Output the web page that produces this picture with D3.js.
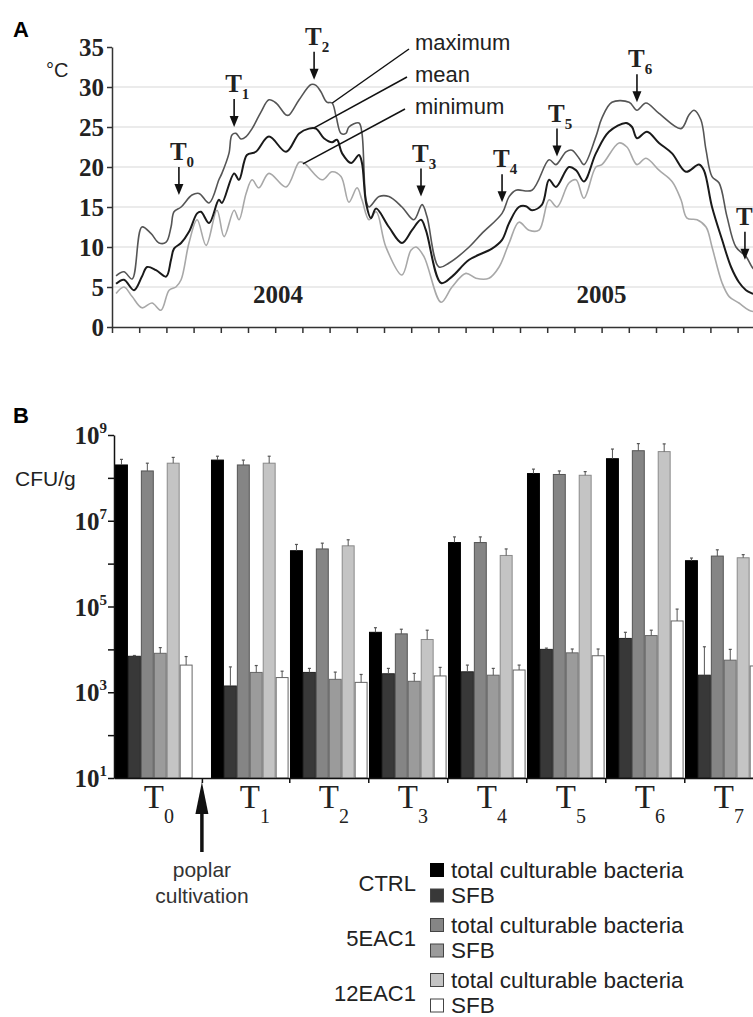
<!DOCTYPE html>
<html>
<head>
<meta charset="utf-8">
<script src="https://cdn.jsdelivr.net/npm/d3@7"></script>
<style>
  body { margin: 0; background: #fff; }
  svg { display: block; }
</style>
</head>
<body>
<script>
// ---- data: panel A, air temperature (month index from Jan 2004, deg C) ----
var tMax = [[0.15,6.4],[0.44,6.9],[0.74,6.0],[1.10,12.5],[1.43,11.7],[1.73,10.5],[1.99,10.6],[2.17,12.5],[2.28,14.4],[2.54,15.0],[2.94,16.5],[3.20,16.7],[3.57,15.5],[3.93,18.4],[4.04,19.2],[4.30,21.7],[4.41,24.0],[4.56,24.2],[4.74,23.5],[4.93,23.8],[5.15,24.8],[5.48,26.9],[5.77,28.4],[6.03,28.0],[6.40,26.5],[6.51,26.5],[6.88,28.4],[7.32,30.3],[7.50,30.2],[7.68,29.4],[7.90,28.1],[8.09,28.0],[8.24,26.3],[8.42,24.2],[8.60,24.2],[8.71,25.0],[9.08,25.5],[9.19,24.2],[9.34,15.9],[9.45,15.0],[9.82,16.3],[10.18,16.3],[10.66,15.0],[11.10,13.4],[11.40,15.3],[11.58,13.8],[12.02,7.5],[12.39,8.0],[13.13,10.0],[13.60,11.7],[14.34,14.2],[14.60,16.3],[14.85,17.1],[15.44,17.1],[16.07,20.9],[16.32,20.3],[16.69,21.9],[16.91,22.1],[17.17,21.1],[17.35,20.3],[17.79,23.8],[18.01,26.1],[18.38,28.1],[19.01,28.1],[19.30,27.1],[19.63,28.0],[20.11,26.7],[20.92,24.8],[21.21,26.5],[21.40,27.1],[21.65,25.9],[21.84,22.1],[22.06,18.8],[22.32,18.0],[22.61,13.8],[22.94,10.0],[23.31,8.8],[23.53,7.5],[23.79,6.5]];
var tMean = [[0.15,5.4],[0.44,5.9],[0.81,4.6],[1.10,6.3],[1.29,7.5],[1.62,7.1],[1.99,6.3],[2.17,8.4],[2.28,9.8],[2.54,10.5],[2.83,11.9],[3.13,14.2],[3.27,14.4],[3.57,13.0],[3.93,15.9],[4.04,15.5],[4.49,19.2],[4.67,18.4],[4.96,21.5],[5.29,21.9],[5.77,23.8],[6.40,21.9],[6.88,24.2],[7.24,24.8],[7.50,24.8],[7.79,23.6],[8.09,23.1],[8.27,23.4],[8.46,21.7],[8.79,20.5],[9.08,21.5],[9.19,20.5],[9.34,15.5],[9.52,13.6],[9.71,14.8],[10.18,12.5],[10.66,10.5],[11.03,12.1],[11.36,13.4],[11.54,12.1],[12.10,5.5],[12.50,6.3],[13.13,8.4],[13.97,9.8],[14.34,10.9],[14.60,13.0],[14.96,15.0],[15.22,15.1],[15.44,14.6],[15.81,15.3],[16.07,18.4],[16.32,17.5],[16.80,20.0],[17.06,19.6],[17.35,18.2],[17.79,21.7],[18.27,24.4],[18.90,25.5],[19.12,25.0],[19.30,23.6],[19.67,24.4],[20.11,23.0],[20.59,21.7],[21.10,19.4],[21.58,20.3],[21.76,19.6],[22.06,15.0],[22.43,10.9],[22.76,7.5],[23.05,5.6],[23.31,4.6],[23.53,4.2],[23.79,3.9]];
var tMin = [[0.15,4.2],[0.44,5.0],[0.74,3.8],[1.10,2.4],[1.47,3.0],[1.80,2.1],[2.10,4.6],[2.35,5.0],[2.54,5.9],[2.83,10.5],[3.13,13.4],[3.46,10.2],[3.86,14.6],[4.12,11.3],[4.49,14.6],[4.67,13.4],[4.93,16.7],[5.15,18.4],[5.40,17.4],[5.77,19.2],[6.40,17.5],[6.88,20.6],[7.06,20.5],[7.72,18.4],[8.09,19.4],[8.42,18.8],[8.71,15.6],[9.01,17.4],[9.19,15.9],[9.45,13.4],[9.71,14.4],[10.07,10.0],[10.66,6.5],[10.99,9.6],[11.18,10.0],[11.47,8.8],[12.10,3.1],[12.50,5.0],[13.01,6.7],[13.38,6.1],[13.86,6.1],[14.23,7.5],[14.60,10.5],[14.96,13.1],[15.33,12.1],[15.70,12.1],[16.07,15.9],[16.36,15.0],[16.80,18.0],[17.06,18.4],[17.35,16.1],[17.79,20.0],[18.01,20.3],[18.64,23.0],[18.93,22.5],[19.30,20.3],[19.63,21.1],[20.11,19.6],[20.59,18.2],[20.92,15.9],[21.14,13.6],[21.51,13.4],[21.84,12.5],[22.06,10.0],[22.43,5.5],[22.69,3.8],[23.05,3.0],[23.42,2.1],[23.79,1.8]];

var sampleNames = ['0','1','2','3','4','5','6','7'];
var sampleMonths = [2.46, 4.49, 7.43, 11.36, 14.34, 16.36, 19.30, 23.27];
var sampleTemps = [16.5, 25.0, 30.9, 16.3, 15.6, 21.3, 28.1, 8.4];
var tempTicks = [0, 5, 10, 15, 20, 25, 30, 35];
var years = [['2004', 6.1], ['2005', 18.0]];
var curveNames = ['maximum', 'mean', 'minimum'];
var curveLabelAnchors = [[8.1, 28.0], [7.43, 24.9], [7.02, 20.4]];

// ---- data: panel B, CFU/g per sampling time ----
var times = ['0','1','2','3','4','5','6','7'];
var seriesNames = ['CTRL total', 'CTRL SFB', '5EAC1 total', '5EAC1 SFB', '12EAC1 total', '12EAC1 SFB'];
var ctrlTotal   = [2.0e8, 2.6e8, 2.0e6, 2.5e4, 3.1e6, 1.26e8, 2.8e8, 1.17e6];
var ctrlTotalSd = [7e7, 6e7, 8e5, 7e3, 1.1e6, 3.4e7, 1.9e8, 1.8e5];
var ctrlSfb     = [6.9e3, 1.4e3, 2.9e3, 2.7e3, 3.0e3, 1.0e4, 1.8e4, 2.5e3];
var ctrlSfbSd   = [300, 2500, 700, 900, 1300, 700, 7000, 9000];
var eac5Total   = [1.45e8, 2.0e8, 2.2e6, 2.3e4, 3.1e6, 1.2e8, 4.3e8, 1.5e6];
var eac5TotalSd = [7.5e7, 6e7, 8e5, 6.5e3, 1.1e6, 2.5e7, 2e8, 6e5];
var eac5Sfb     = [8.1e3, 2.9e3, 2.0e3, 1.8e3, 2.5e3, 8.3e3, 2.1e4, 5.6e3];
var eac5SfbSd   = [2900, 1300, 950, 950, 1100, 1900, 7000, 4400];
var eac12Total  = [2.2e8, 2.2e8, 2.6e6, 1.7e4, 1.55e6, 1.15e8, 4.1e8, 1.37e6];
var eac12TotalSd= [8e7, 1e8, 1e6, 1.1e4, 6.5e5, 2.5e7, 2.1e8, 2.5e5];
var eac12Sfb    = [4.3e3, 2.2e3, 1.7e3, 2.4e3, 3.3e3, 7.1e3, 4.6e4, 4.1e3];
var eac12SfbSd  = [2500, 900, 900, 1400, 1000, 3100, 41000, 1900];
var cfuTicks = [1e1, 1e2, 1e3, 1e4, 1e5, 1e6, 1e7, 1e8, 1e9];
var legendGroups = ['CTRL', '5EAC1', '12EAC1'];
var legendItems = ['total culturable bacteria', 'SFB'];

var seriesValues = [ctrlTotal, ctrlSfb, eac5Total, eac5Sfb, eac12Total, eac12Sfb];
var seriesSd = [ctrlTotalSd, ctrlSfbSd, eac5TotalSd, eac5SfbSd, eac12TotalSd, eac12SfbSd];
var fills = ['#000000', '#383838', '#858585', '#9b9b9b', '#c4c4c4', '#ffffff'];
var strokes = ['#000000', '#222222', '#555555', '#666666', '#8a8a8a', '#666666'];

var serif = "'Liberation Serif', 'Times New Roman', serif";
var sans = "'Liberation Sans', Arial, sans-serif";

var svg = d3.select('body').append('svg')
  .attr('width', 753)
  .attr('height', 1017);

svg.append('rect').attr('width', 753).attr('height', 1017).attr('fill', '#fff');

// ================= panel A =================
var xA = d3.scaleLinear().domain([0, 24]).range([112, 112 + 24 * 27.2]);
var yA = d3.scaleLinear().domain([0, 35]).range([327, 47]);

svg.append('text').attr('x', 13).attr('y', 37)
  .style('font-family', sans).style('font-size', '22px').style('font-weight', 'bold')
  .text('A');

// grid
svg.append('g').selectAll('line').data(tempTicks.filter(function(d){ return d > 0 && d < 35; }))
  .enter().append('line')
  .attr('x1', xA(0)).attr('x2', 753)
  .attr('y1', function(d){ return yA(d); }).attr('y2', function(d){ return yA(d); })
  .attr('stroke', '#e4e4e4').attr('stroke-width', 1.5);

var yAxisA = svg.append('g').attr('transform', 'translate(' + xA(0) + ',0)')
  .call(d3.axisLeft(yA).tickValues(tempTicks).tickSize(5).tickPadding(3).tickSizeOuter(0));
var xAxisA = svg.append('g').attr('transform', 'translate(0,' + yA(0) + ')')
  .call(d3.axisBottom(xA).tickValues(d3.range(0, 24)).tickSize(6).tickSizeOuter(0).tickFormat(''));

[yAxisA, xAxisA].forEach(function(ax){
  ax.selectAll('path, line').attr('stroke', '#333').attr('stroke-width', 1.5);
});
yAxisA.selectAll('text')
  .style('font-family', serif).style('font-size', '25px').style('font-weight', 'bold')
  .attr('fill', '#222').attr('dy', '0.34em');

svg.append('text').attr('x', 46).attr('y', 77)
  .style('font-family', sans).style('font-size', '20px').attr('fill', '#222')
  .text('°C');

var line = d3.line()
  .x(function(d){ return xA(d[0]); })
  .y(function(d){ return yA(d[1]); })
  .curve(d3.curveCatmullRom.alpha(0.5));

var curves = [
  {data: tMin, color: '#a8a8a8', w: 1.6},
  {data: tMax, color: '#555555', w: 1.6},
  {data: tMean, color: '#1a1a1a', w: 2}
];
svg.append('g').selectAll('path').data(curves).enter().append('path')
  .attr('d', function(d){ return line(d.data); })
  .attr('fill', 'none')
  .attr('stroke', function(d){ return d.color; })
  .attr('stroke-width', function(d){ return d.w; });

// year labels
svg.append('g').selectAll('text').data(years).enter().append('text')
  .attr('x', function(d){ return xA(d[1]); }).attr('y', 303)
  .attr('text-anchor', 'middle')
  .style('font-family', serif).style('font-size', '25px').style('font-weight', 'bold')
  .attr('fill', '#222')
  .text(function(d){ return d[0]; });

// curve labels with leader lines
curveNames.forEach(function(name, i){
  var ly = 50 + i * 32;
  svg.append('line')
    .attr('x1', 409 - i * 2).attr('y1', ly - 1 + (i === 0 ? 0 : -4))
    .attr('x2', xA(curveLabelAnchors[i][0])).attr('y2', yA(curveLabelAnchors[i][1]))
    .attr('stroke', '#111').attr('stroke-width', 1.5);
  svg.append('text').attr('x', 415).attr('y', ly)
    .style('font-family', sans).style('font-size', '22px').attr('fill', '#222')
    .text(name);
});

// sampling arrows
var arrowsA = svg.append('g').selectAll('g').data(sampleNames).enter().append('g')
  .attr('transform', function(d, i){
    return 'translate(' + xA(sampleMonths[i]) + ',' + yA(sampleTemps[i]) + ')';
  });
arrowsA.append('line').attr('x1', 0).attr('x2', 0).attr('y1', -28).attr('y2', -8)
  .attr('stroke', '#111').attr('stroke-width', 1.6);
arrowsA.append('path').attr('d', 'M-4.5,-11L4.5,-11L0,0Z').attr('fill', '#111');
var tlab = arrowsA.append('text').attr('x', -9).attr('y', -35)
  .style('font-family', serif).style('font-weight', 'bold').attr('fill', '#222');
tlab.append('tspan').style('font-size', '25px').text('T');
tlab.append('tspan').attr('dy', 7).style('font-size', '15px').text(function(d){ return d; });

// ================= panel B =================
var yB = d3.scaleLog().domain([1e1, 1e9]).range([778, 435]);
var xG = d3.scaleLinear().domain([0, 8]).range([115, 115 + 8 * 79]);
var slot = function(i){ return i + (i > 0 ? 0.215 : 0); };
var xS = d3.scaleBand().domain(seriesNames).range([0, 77.6]);
var bw = xS.bandwidth();

svg.append('text').attr('x', 13).attr('y', 423)
  .style('font-family', sans).style('font-size', '22px').style('font-weight', 'bold')
  .text('B');
svg.append('text').attr('x', 15).attr('y', 486)
  .style('font-family', sans).style('font-size', '21px').attr('fill', '#222')
  .text('CFU/g');

var cells = [];
times.forEach(function(t, i){
  seriesNames.forEach(function(s, j){
    cells.push({t: i, s: j, v: seriesValues[j][i], sd: seriesSd[j][i]});
  });
});

var bars = svg.append('g');
bars.selectAll('rect').data(cells).enter().append('rect')
  .attr('x', function(d){ return xG(slot(d.t)) + xS(seriesNames[d.s]) + 0.5; })
  .attr('y', function(d){ return yB(d.v); })
  .attr('width', bw - 1)
  .attr('height', function(d){ return yB(1e1) - yB(d.v); })
  .attr('fill', function(d){ return fills[d.s]; })
  .attr('stroke', function(d){ return strokes[d.s]; })
  .attr('stroke-width', 1);

var errs = svg.append('g').selectAll('g').data(cells).enter().append('g')
  .attr('transform', function(d){
    return 'translate(' + (xG(slot(d.t)) + xS(seriesNames[d.s]) + bw / 2) + ',0)';
  });
errs.append('line').attr('x1', 0).attr('x2', 0)
  .attr('y1', function(d){ return yB(d.v); })
  .attr('y2', function(d){ return yB(d.v + d.sd); })
  .attr('stroke', '#555').attr('stroke-width', 1);
errs.append('line').attr('x1', -1.5).attr('x2', 1.5)
  .attr('y1', function(d){ return yB(d.v + d.sd); })
  .attr('y2', function(d){ return yB(d.v + d.sd); })
  .attr('stroke', '#555').attr('stroke-width', 1.2);

// axes
var yAxisB = svg.append('g').attr('transform', 'translate(114,0)')
  .call(d3.axisLeft(yB).tickValues(cfuTicks).tickSize(6).tickSizeOuter(0).tickFormat(''));
var xAxisScale = xG.copy().domain([xG.invert(114), xG.invert(760)]).range([114, 760]);
var groupEdges = [1.1, 2.206, 3.206, 4.206, 5.206, 6.206, 7.206];
var xAxisB = svg.append('g').attr('transform', 'translate(0,778)')
  .call(d3.axisBottom(xAxisScale).tickValues(groupEdges).tickSize(5).tickSizeOuter(0).tickFormat(''));
[yAxisB, xAxisB].forEach(function(ax){
  ax.selectAll('path, line').attr('stroke', '#111').attr('stroke-width', 1.5);
});

var ylabB = svg.append('g').selectAll('text')
  .data(cfuTicks.filter(function(d, i){ return i % 2 === 0; }))
  .enter().append('text')
  .attr('x', 107).attr('y', function(d){ return yB(d) + 9; })
  .attr('text-anchor', 'end')
  .style('font-family', serif).style('font-weight', 'bold').attr('fill', '#222');
ylabB.append('tspan').style('font-size', '25px').text('10');
ylabB.append('tspan').attr('dy', -11).style('font-size', '15px')
  .text(function(d){ return Math.round(Math.log10(d)); });

// time labels under groups
var tlabB = svg.append('g').selectAll('text').data(times).enter().append('text')
  .attr('x', function(d, i){ return xG(slot(i)) + 38.8 - 10; })
  .attr('y', 808)
  .style('font-family', serif).attr('fill', '#222');
tlabB.append('tspan').style('font-size', '33px').text('T');
tlabB.append('tspan').attr('dy', 15).style('font-size', '20px').text(function(d){ return d; });

// poplar cultivation arrow
var ax0 = xAxisScale(1.1);
svg.append('line').attr('x1', ax0).attr('x2', ax0).attr('y1', 805).attr('y2', 852)
  .attr('stroke', '#111').attr('stroke-width', 3.5);
svg.append('path')
  .attr('d', 'M' + (ax0 - 6.5) + ',814L' + (ax0 + 6.5) + ',814L' + ax0 + ',782Z')
  .attr('fill', '#111');
svg.append('text').attr('x', ax0).attr('y', 877).attr('text-anchor', 'middle')
  .style('font-family', sans).style('font-size', '21px').attr('fill', '#333')
  .text('poplar');
svg.append('text').attr('x', ax0).attr('y', 903).attr('text-anchor', 'middle')
  .style('font-family', sans).style('font-size', '21px').attr('fill', '#333')
  .text('cultivation');

// legend
var legend = svg.append('g');
legendGroups.forEach(function(g, gi){
  var top = 870 + gi * 55;
  legend.append('text').attr('x', 416).attr('y', top + 12.5 + 8)
    .attr('text-anchor', 'end')
    .style('font-family', sans).style('font-size', '22px').attr('fill', '#222')
    .text(g);
  legendItems.forEach(function(item, r){
    var cy = top + r * 25.5;
    var k = gi * 2 + r;
    legend.append('rect').attr('x', 430.5).attr('y', cy - 6.5).attr('width', 13).attr('height', 13)
      .attr('fill', fills[k]).attr('stroke', strokes[k] === '#000000' ? '#000' : '#444').attr('stroke-width', 1);
    legend.append('text').attr('x', 451).attr('y', cy + 7.5)
      .style('font-family', sans).style('font-size', '22.5px').attr('fill', '#222')
      .text(item);
  });
});
</script>
</body>
</html>
